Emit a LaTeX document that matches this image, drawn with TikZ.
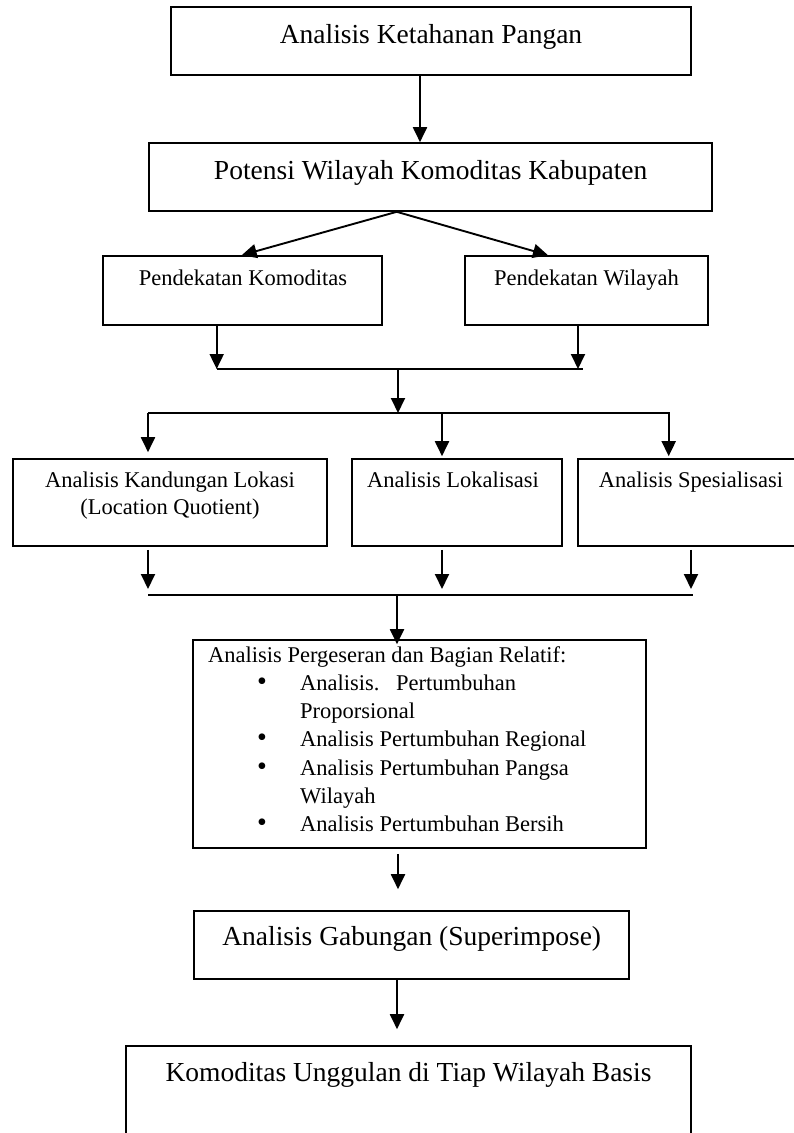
\documentclass[tikz,border=0pt]{standalone}
\usepackage{fontspec}
\setmainfont{Liberation Serif}
\usetikzlibrary{arrows.meta}
\newcommand{\blt}{\makebox[92pt][l]{\hspace{48.8pt}{\fontsize{28}{28}\selectfont\textbullet}}}
\begin{document}
\begin{tikzpicture}[x=1pt,y=-1pt,
  box/.style={draw,line width=1.6pt,rectangle,inner sep=0pt},
  big/.style={font=\fontsize{27.5}{33}\selectfont,anchor=base,inner sep=0pt},
  small/.style={font=\fontsize{22.5}{27}\selectfont,anchor=base,inner sep=0pt},
  arr/.style={line width=1.9pt,-{Triangle[length=15pt,width=14pt]}},
  ln/.style={line width=1.9pt}]
\useasboundingbox (0,0) rectangle (794,1133);
\clip (0,0) rectangle (794,1133);
\fill[white] (0,0) rectangle (794,1133);

% boxes
\node[box,minimum width=520pt,minimum height=68pt] (b1) at (431,41) {};
\node[box,minimum width=563pt,minimum height=68pt] (b2) at (430.5,177) {};
\node[box,minimum width=279pt,minimum height=69pt] (b3) at (242.5,290.5) {};
\node[box,minimum width=243pt,minimum height=69pt] (b4) at (586.5,290.5) {};
\node[box,minimum width=314pt,minimum height=87pt] (b5) at (170,502.5) {};
\node[box,minimum width=210pt,minimum height=87pt] (b6) at (457,502.5) {};
\node[box,minimum width=222pt,minimum height=87pt] (b7) at (689,502.5) {};
\node[box,minimum width=453pt,minimum height=208pt] (b8) at (419.5,744) {};
\node[box,minimum width=435pt,minimum height=68pt] (b9) at (411.5,945) {};
\node[box,minimum width=565pt,minimum height=94pt] (b10) at (408.5,1093) {};

% texts
\node[big] (t1) at (431,43.5) {Analisis Ketahanan Pangan};
\node[big] (t2) at (430.7,179) {Potensi Wilayah Komoditas Kabupaten};
\node[small] (t3) at (243,285.5) {Pendekatan Komoditas};
\node[small] (t4) at (586.5,285.5) {Pendekatan Wilayah};
\node[small] (t5a) at (170,487.7) {Analisis Kandungan Lokasi};
\node[small] (t5b) at (170,514) {(Location Quotient)};
\node[small] (t6) at (453,487.7) {Analisis Lokalisasi};
\node[small] (t7) at (691,487.7) {Analisis Spesialisasi};
\node[small,anchor=base west] (t8) at (208,662.3) {\vtop{\baselineskip=28.2pt\lineskiplimit=-100pt
  \hbox{Analisis Pergeseran dan Bagian Relatif:}
  \hbox{\blt Analisis.\hspace{16.6pt}Pertumbuhan}
  \hbox{\hspace{92pt}Proporsional}
  \hbox{\blt Analisis Pertumbuhan Regional}
  \hbox{\blt Analisis Pertumbuhan Pangsa}
  \hbox{\hspace{92pt}Wilayah}
  \hbox{\blt Analisis Pertumbuhan Bersih}}};
\node[big] (t9) at (411.7,945) {Analisis Gabungan (Superimpose)};
\node[big] (t10) at (408.5,1081.7) {Komoditas Unggulan di Tiap Wilayah Basis};

% junction points
\coordinate (m1a) at (216.7,369);
\coordinate (m1r) at (578,369);
\coordinate (m1b) at (582.7,369);
\coordinate (m1) at (398,369);
\coordinate (s1) at (398,413);
\coordinate (s1l) at (148,413);
\coordinate (s1m) at (442,413);
\coordinate (s1r) at (668.7,413);
\coordinate (s1e) at (670,413);
\coordinate (m2l) at (148,595);
\coordinate (m2m) at (442,595);
\coordinate (m2r) at (691,595);
\coordinate (m2e) at (693,595);
\coordinate (m2) at (397,595);

% connectors
\draw[arr] (b1.south -| 420,0) -- (b2.north -| 420,0);
\draw[arr] (b2.south -| 396.7,0) -- (b3.north -| 241.7,0);
\draw[arr] (b2.south -| 396.7,0) -- (b4.north -| 548,0);
\draw[arr] (b3.south -| m1a) -- (m1a);
\draw[arr] (b4.south -| m1r) -- (m1r);
\draw[ln] (m1a) -- (m1b);
\draw[arr] (m1) -- (s1);
\draw[ln] (s1l) -- (s1e);
\draw[arr,shorten >=6pt] (s1l) -- (b5.north -| s1l);
\draw[arr,shorten >=2pt] (s1m) -- (b6.north -| s1m);
\draw[arr,shorten >=2pt] (s1r) -- (b7.north -| s1r);
\draw[arr,shorten <=3pt,shorten >=6pt] (b5.south -| m2l) -- (m2l);
\draw[arr,shorten <=3pt,shorten >=6pt] (b6.south -| m2m) -- (m2m);
\draw[arr,shorten <=3pt,shorten >=6pt] (b7.south -| m2r) -- (m2r);
\draw[ln] (m2l) -- (m2e);
\draw[arr,shorten >=-5pt] (m2) -- (b8.north -| m2);
\draw[arr,shorten <=5pt,shorten >=21pt] (b8.south -| 398,0) -- (b9.north -| 398,0);
\draw[arr,shorten >=16pt] (b9.south -| 397,0) -- (b10.north -| 397,0);
\end{tikzpicture}
\end{document}
